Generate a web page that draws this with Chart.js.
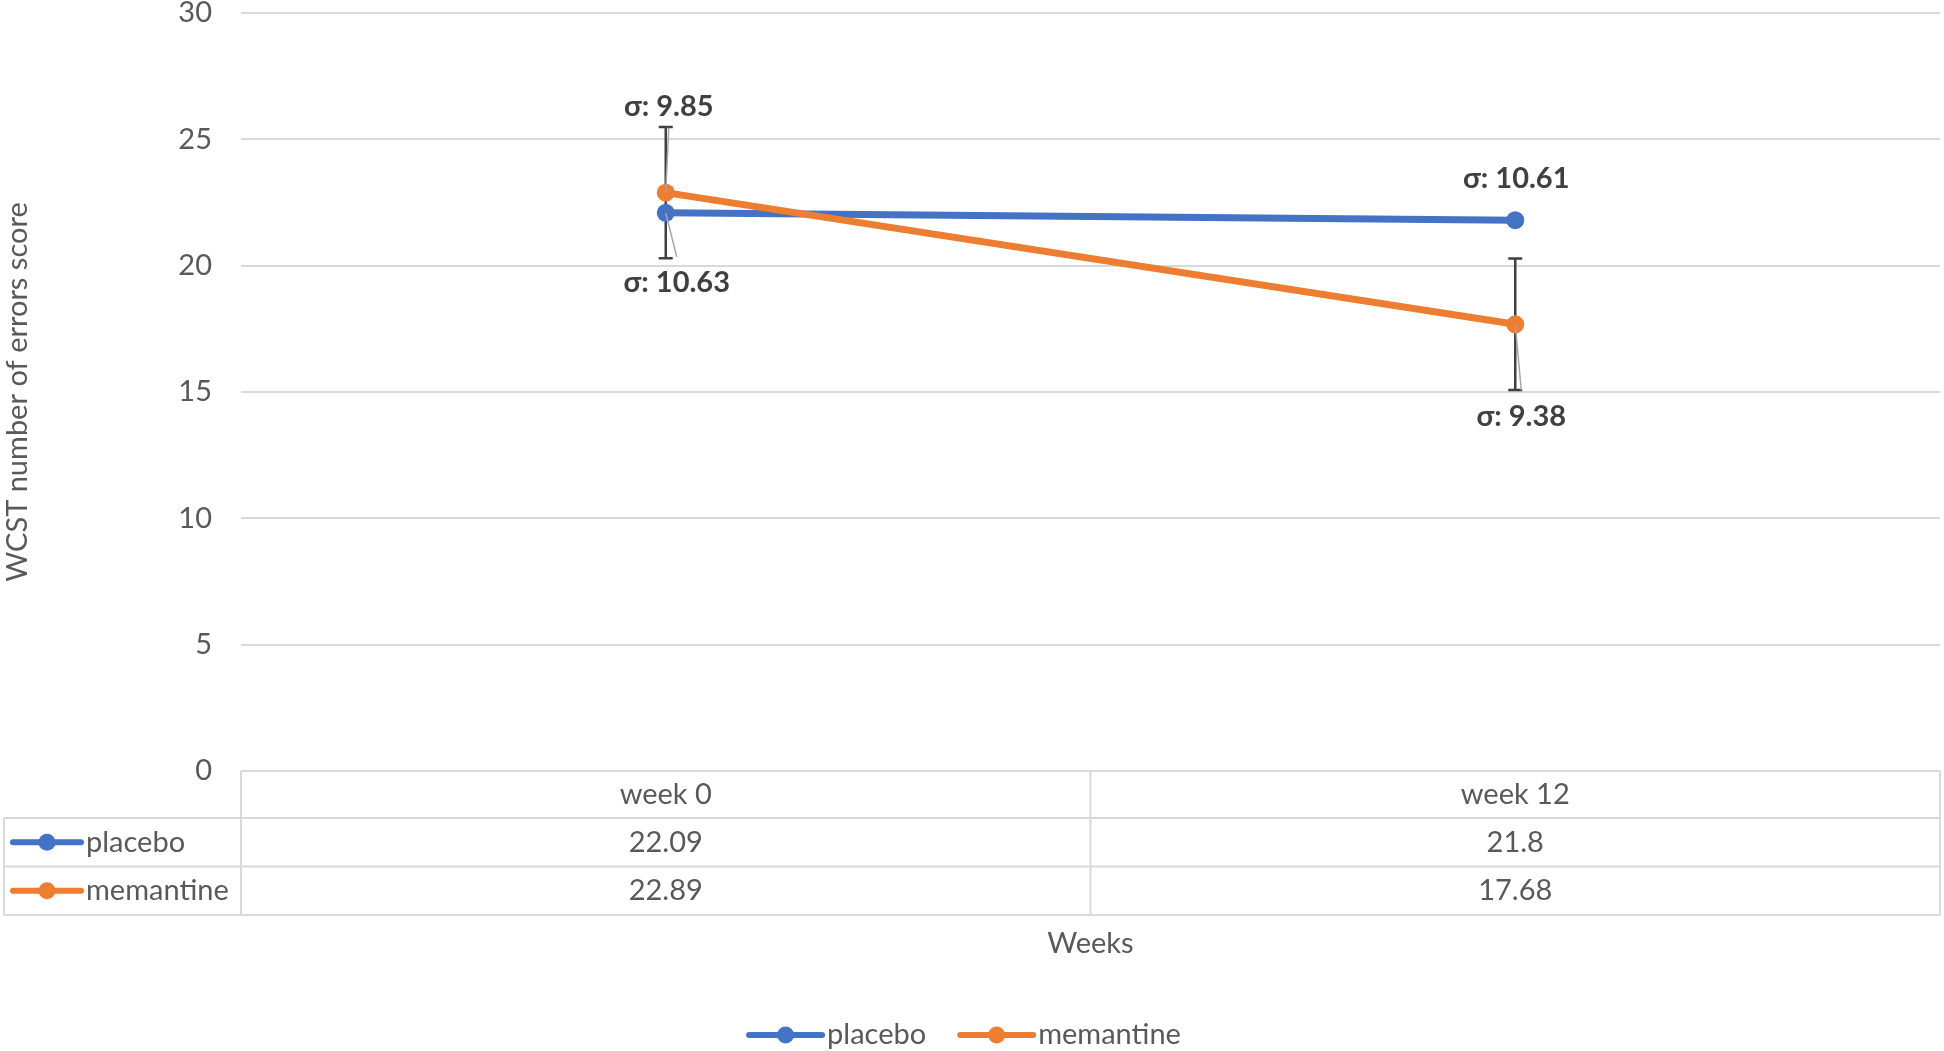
<!DOCTYPE html>
<html>
<head>
<meta charset="utf-8">
<script src="https://cdn.jsdelivr.net/npm/chart.js@4.4.1/dist/chart.umd.min.js"></script>
<style>
  html, body { margin: 0; padding: 0; background: #fff; overflow: hidden; }
  #wrap { width: 1944px; height: 1051px; }
</style>
</head>
<body>
<div id="wrap"><canvas id="chart"></canvas></div>
<script>
// ===== DATA =====
const weeks = ['week 0', 'week 12'];
const seriesNames = ['placebo', 'memantine'];
const placebo = [22.09, 21.8];
const memantine = [22.89, 17.68];
const memantineErr = [2.6, 2.6];
const placeboSd = [10.63, 10.61];
const memantineSd = [9.85, 9.38];
const yTicks = [0, 5, 10, 15, 20, 25, 30];

// ===== STYLE =====
const BLUE = '#4472C4', ORANGE = '#ED7D31';
const TXT = '#595959', GRID = '#d9d9d9';
const FONT = 'Lato, "Open Sans", sans-serif';
const FS = 29;

// label placement: [dx, dy] pixel offsets from the point, leader line on/off
const labelPlace = {
  placebo:   [[11, 70, true], [1, -42, false]],
  memantine: [[3, -86, true], [6, 92, true]]
};

function drawMarker(ctx, x, y, color, half) {
  ctx.save();
  ctx.strokeStyle = color; ctx.fillStyle = color;
  ctx.lineWidth = 6; ctx.lineCap = 'round';
  ctx.beginPath(); ctx.moveTo(x - half, y); ctx.lineTo(x + half, y); ctx.stroke();
  ctx.beginPath(); ctx.arc(x, y, 8.5, 0, Math.PI * 2); ctx.fill();
  ctx.restore();
}

// error bars drawn under the lines
const errorBars = {
  id: 'errorBars',
  beforeDatasetsDraw(chart) {
    const { ctx, scales: { x, y } } = chart;
    ctx.save();
    ctx.strokeStyle = '#404040'; ctx.lineWidth = 2.5;
    memantine.forEach((v, i) => {
      const px = x.getPixelForValue(i);
      const top = y.getPixelForValue(v + memantineErr[i]);
      const bot = y.getPixelForValue(v - memantineErr[i]);
      ctx.beginPath();
      ctx.moveTo(px, top); ctx.lineTo(px, bot);
      ctx.moveTo(px - 7, top); ctx.lineTo(px + 7, top);
      ctx.moveTo(px - 7, bot); ctx.lineTo(px + 7, bot);
      ctx.stroke();
    });
    ctx.restore();
  }
};

// sigma labels with leader lines
const sigmaLabels = {
  id: 'sigmaLabels',
  afterDatasetsDraw(chart) {
    const { ctx, scales: { x, y } } = chart;
    const sets = [['placebo', placebo, placeboSd], ['memantine', memantine, memantineSd]];
    ctx.save();
    sets.forEach(([name, vals, sd]) => {
      vals.forEach((v, i) => {
        const px = x.getPixelForValue(i), py = y.getPixelForValue(v);
        const [dx, dy, leader] = labelPlace[name][i];
        const lx = px + dx, ly = py + dy;
        if (leader) {
          ctx.strokeStyle = '#a6a6a6'; ctx.lineWidth = 1.5;
          ctx.beginPath();
          ctx.moveTo(px, py);
          ctx.lineTo(lx, ly + (dy < 0 ? 21 : -26));
          ctx.stroke();
        }
        ctx.fillStyle = '#404040';
        ctx.font = 'bold ' + FS + 'px ' + FONT;
        ctx.textAlign = 'center'; ctx.textBaseline = 'middle';
        ctx.fillText('σ: ' + sd[i], lx, ly);
      });
    });
    ctx.restore();
  }
};

// data table under the plot + legend
const dataTable = {
  id: 'dataTable',
  afterDraw(chart) {
    const { ctx, chartArea: a, scales: { x } } = chart;
    const t0 = a.bottom, t1 = t0 + 47, t2 = t1 + 48.5, t3 = t2 + 48.5;
    const L = 4, R = a.right, mid = x.getPixelForValue(0.5);
    ctx.save();
    ctx.strokeStyle = GRID; ctx.lineWidth = 2;
    ctx.beginPath();
    ctx.moveTo(a.left, t0); ctx.lineTo(R, t0);
    [t1, t2, t3].forEach(yy => { ctx.moveTo(L, yy); ctx.lineTo(R, yy); });
    ctx.moveTo(L, t1); ctx.lineTo(L, t3);
    [a.left, mid, R].forEach(xx => { ctx.moveTo(xx, t0); ctx.lineTo(xx, t3); });
    ctx.stroke();

    ctx.fillStyle = TXT;
    ctx.font = FS + 'px ' + FONT;
    ctx.textAlign = 'center'; ctx.textBaseline = 'middle';
    weeks.forEach((w, i) => {
      const px = x.getPixelForValue(i);
      ctx.fillText(w, px, (t0 + t1) / 2);
      ctx.fillText(String(placebo[i]), px, (t1 + t2) / 2);
      ctx.fillText(String(memantine[i]), px, (t2 + t3) / 2);
    });

    // row keys
    [[seriesNames[0], BLUE, (t1 + t2) / 2], [seriesNames[1], ORANGE, (t2 + t3) / 2]].forEach(([n, c, yy]) => {
      drawMarker(ctx, 47, yy, c, 34);
      ctx.fillStyle = TXT; ctx.textAlign = 'left';
      ctx.fillText(n, 86, yy);
    });

    // legend
    const ly = 1035, mk = 73, gap = 5, sep = 34;
    const w1 = ctx.measureText(seriesNames[0]).width, w2 = ctx.measureText(seriesNames[1]).width;
    const total = mk + gap + w1 + sep + mk + gap + w2;
    let cx = 965 - total / 2;
    [[seriesNames[0], BLUE, w1], [seriesNames[1], ORANGE, w2]].forEach(([n, c, w]) => {
      drawMarker(ctx, cx + mk / 2, ly, c, mk / 2);
      ctx.fillStyle = TXT; ctx.textAlign = 'left';
      ctx.fillText(n, cx + mk + gap, ly);
      cx += mk + gap + w + sep;
    });
    ctx.restore();
  }
};

new Chart(document.getElementById('chart'), {
  type: 'line',
  data: {
    labels: weeks,
    datasets: [
      { label: seriesNames[0], data: placebo, borderColor: BLUE, backgroundColor: BLUE, order: 1 },
      { label: seriesNames[1], data: memantine, borderColor: ORANGE, backgroundColor: ORANGE, order: 0 }
    ]
  },
  options: {
    responsive: true,
    maintainAspectRatio: false,
    animation: false,
    layout: { autoPadding: false, padding: { left: 0, right: 4, top: 0, bottom: 0 } },
    elements: {
      line: { borderWidth: 7, borderCapStyle: 'round', borderJoinStyle: 'round', tension: 0 },
      point: { radius: 9, borderWidth: 0, hoverRadius: 9 }
    },
    plugins: { legend: { display: false }, tooltip: { enabled: false } },
    scales: {
      x: {
        offset: true,
        grid: { display: false, drawTicks: false },
        border: { display: false },
        ticks: { display: false },
        title: { display: true, text: 'Weeks', color: TXT, font: { family: FONT, size: FS }, padding: { top: 0, bottom: 90 } },
        afterFit: s => { s.height = 280; s.paddingRight = 0; s.paddingLeft = 0; }
      },
      y: {
        min: 0, max: 30,
        afterBuildTicks: s => { s.ticks = yTicks.map(v => ({ value: v })); },
        grid: { color: GRID, lineWidth: 2, drawTicks: false },
        border: { display: false },
        ticks: { color: TXT, font: { family: FONT, size: FS }, padding: 29 },
        title: { display: true, text: 'WCST number of errors score', color: TXT, font: { family: FONT, size: FS }, padding: { top: 0, bottom: 0 } },
        afterFit: s => { s.width = 241; s.paddingTop = 13; }
      }
    }
  },
  plugins: [errorBars, sigmaLabels, dataTable]
});
</script>
</body>
</html>
